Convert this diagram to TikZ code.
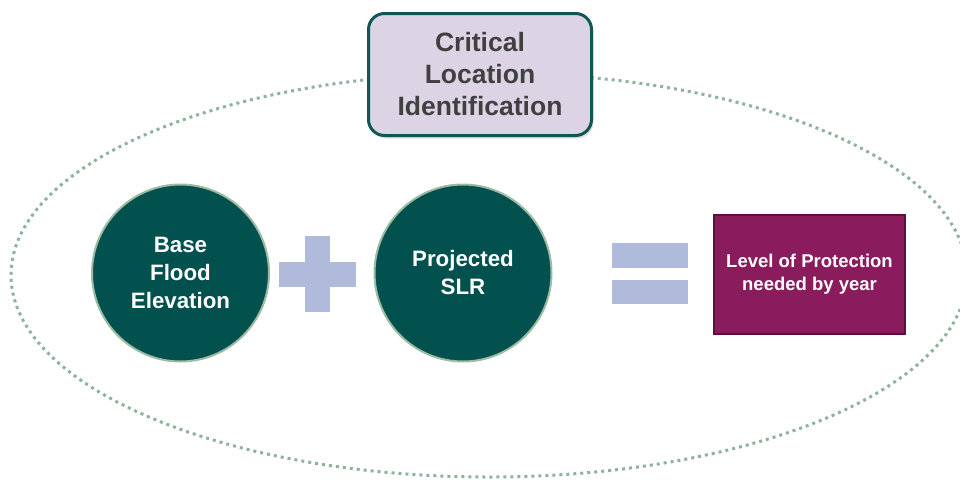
\documentclass[tikz,border=0pt]{standalone}
\usepackage{fontspec}
\setmainfont{Liberation Sans}
\usetikzlibrary{positioning,shadows}
\definecolor{circfill}{HTML}{03514F}
\definecolor{circedge}{HTML}{9DBBA3}
\definecolor{barblue}{HTML}{B0BBDC}
\definecolor{plum}{HTML}{8A1B5D}
\definecolor{plumedge}{HTML}{5A0F3C}
\definecolor{lilac}{HTML}{DCD3E5}
\definecolor{tealedge}{HTML}{0E5753}
\definecolor{ringdots}{HTML}{8DB49B}
\definecolor{greytext}{HTML}{404040}
\tikzset{
  circ/.style={circle, fill=circfill, draw=circedge, line width=2pt,
    minimum size=177pt, inner sep=0pt, text=white, align=center,
    font=\fontsize{22.3}{28}\selectfont\bfseries},
  bar/.style={rectangle, fill=barblue, inner sep=0pt},
  ring/.style={draw=ringdots, line width=3pt, dash pattern=on 3pt off 4pt},
}

\begin{document}
\begin{tikzpicture}[x=1pt,y=-1pt]
\useasboundingbox (0,0) rectangle (960,480);
\clip (0,0) rectangle (960,480);
\draw[ring] (489,275) ellipse [x radius=478, y radius=202];
\node[rectangle, rounded corners=16pt, fill=lilac, draw=tealedge, line width=3pt,
  minimum width=223pt, minimum height=122pt, text=greytext, align=center,
  font=\fontsize{26.5}{32}\selectfont\bfseries,
  drop shadow={shadow xshift=2pt, shadow yshift=-3pt, opacity=0.25}]
  (cli) at (480,74.5) {Critical\\Location\\Identification};
\node[circ] (bfe) at (180.5,273) {Base\\Flood\\Elevation};
\node[circ] (slr) at (463,273) {Projected\\SLR};
% plus sign
\node[bar, minimum width=77pt, minimum height=25pt] (plush) at (317.5,274.5) {};
\node[bar, minimum width=25pt, minimum height=76pt] (plusv) at (317.5,274) {};
% equals sign
\node[bar, minimum width=76pt, minimum height=25pt] (eqtop) at (650,255.5) {};
\node[bar, minimum width=76pt, minimum height=24pt] (eqbot) at (650,292) {};
\node[rectangle, fill=plum, draw=plumedge, line width=2pt,
  minimum width=191pt, minimum height=119pt, text=white, align=center,
  font=\fontsize{18.5}{23}\selectfont\bfseries]
  (lop) at (809.5,274.5) {Level of Protection\\needed by year};
%\draw[help lines] (0,0) grid[step=40] (960,480);
\end{tikzpicture}
\end{document}
